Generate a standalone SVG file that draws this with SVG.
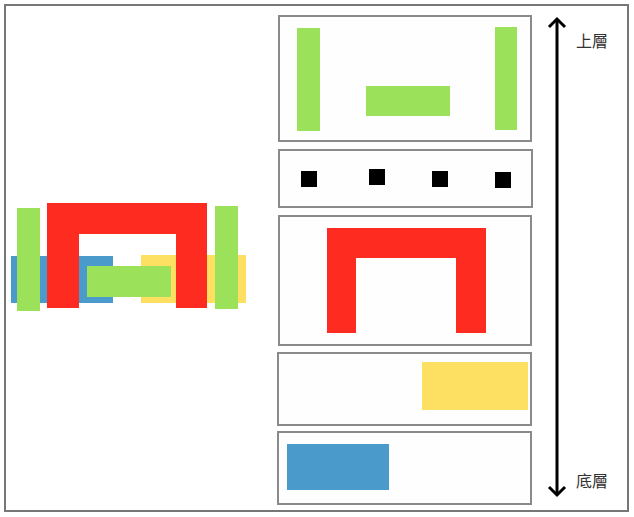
<svg xmlns="http://www.w3.org/2000/svg" width="634" height="517" viewBox="0 0 634 517">
<style>
.panel{fill:#fefefe;stroke:#8a8a8a;stroke-width:2}
.g{fill:#9be25a}
.r{fill:#fe2c20}
.b{fill:#4a9bcb}
.y{fill:#fde062}
.k{fill:#000}
.lbl{font-family:"Noto Sans CJK TC","Noto Sans CJK SC",sans-serif;font-size:16px;fill:#333}
</style>
<defs>
<marker id="ah" viewBox="0 0 20 20" refX="10" refY="10" markerWidth="20" markerHeight="20" markerUnits="userSpaceOnUse" orient="auto-start-reverse">
<path d="M2,2 L10,10 L2,18" fill="none" stroke="#000" stroke-width="3"/>
</marker>
</defs>
<rect x="0" y="0" width="634" height="517" fill="#fff"/>
<rect x="5" y="5" width="623" height="506" fill="#fff" stroke="#777" stroke-width="2"/>
<g id="composite">
<rect class="b" x="11" y="256" width="102" height="47"/>
<rect class="y" x="141" y="255" width="105" height="48"/>
<path class="r" d="M47,203 H207 V308 H176 V234 H79 V308 H47 Z"/>
<rect class="g" x="17" y="208" width="23" height="103"/>
<rect class="g" x="215" y="206" width="23" height="103"/>
<rect class="g" x="87" y="266" width="84" height="31"/>
</g>
<g id="layer1">
<rect class="panel" x="279" y="16" width="252" height="125"/>
<rect class="g" x="297" y="28" width="23" height="103"/>
<rect class="g" x="495" y="27" width="22" height="103"/>
<rect class="g" x="366" y="86" width="84" height="30"/>
</g>
<g id="layer2">
<rect class="panel" x="279" y="150" width="253" height="57"/>
<rect class="k" x="301" y="171" width="16" height="16"/>
<rect class="k" x="369" y="169" width="16" height="16"/>
<rect class="k" x="432" y="171" width="16" height="16"/>
<rect class="k" x="495" y="172" width="16" height="16"/>
</g>
<g id="layer3">
<rect class="panel" x="279" y="216" width="252" height="129"/>
<path class="r" d="M327,228 H486 V333 H456 V258 H356 V333 H327 Z"/>
</g>
<g id="layer4">
<rect class="panel" x="278" y="353" width="253" height="72"/>
<rect class="y" x="422" y="362" width="106" height="48"/>
</g>
<g id="layer5">
<rect class="panel" x="278" y="432" width="253" height="72"/>
<rect class="b" x="287" y="444" width="102" height="46"/>
</g>
<g id="connectors">
<line x1="557" y1="19" x2="557" y2="495" stroke="#000" stroke-width="3" marker-start="url(#ah)" marker-end="url(#ah)"/>
</g>
<g id="labels">
<text class="lbl" x="576" y="47">上層</text>
<text class="lbl" x="576" y="487">底層</text>
</g>
</svg>
